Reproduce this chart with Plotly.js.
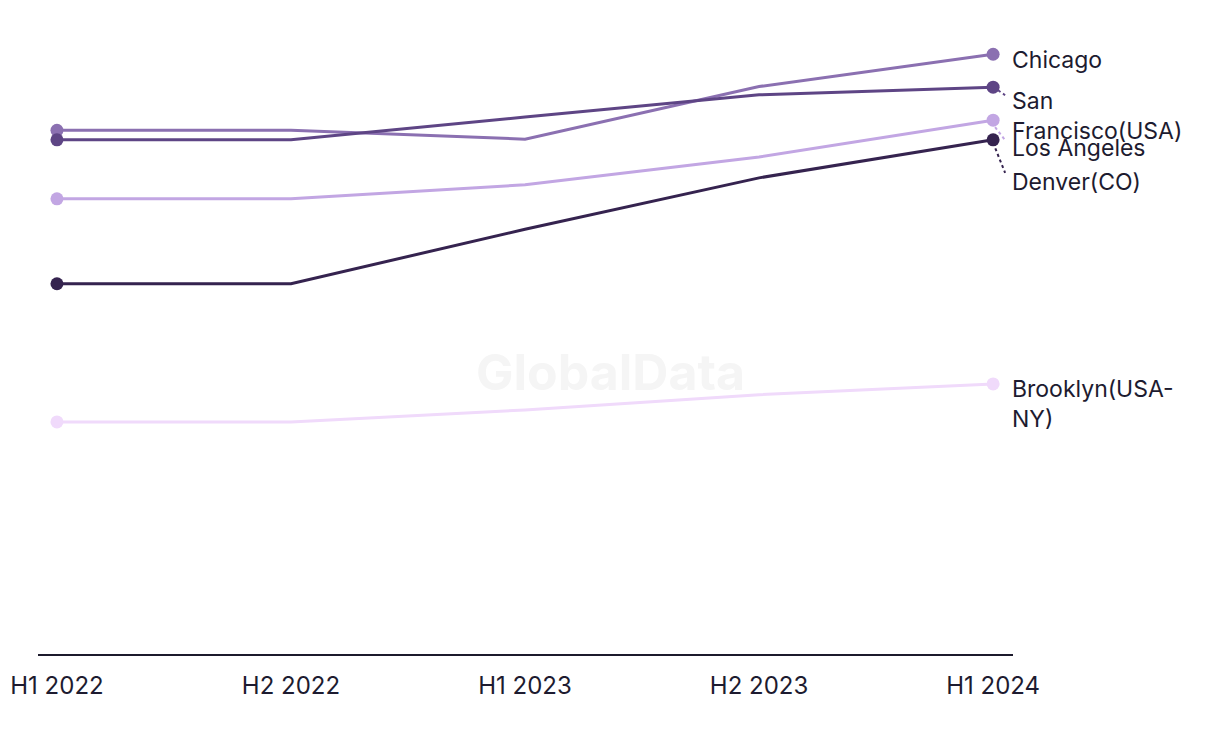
<!DOCTYPE html>
<html>
<head>
<meta charset="utf-8">
<script src="https://cdn.plot.ly/plotly-3.0.1.min.js"></script>
<style>html,body{margin:0;padding:0;background:#fff;}#chart{width:1220px;height:744px;}</style>
</head>
<body>
<div id="chart"></div>
<script>
const periods = ["H1 2022", "H2 2022", "H1 2023", "H2 2023", "H1 2024"];
const seriesNames = ["Chicago", "San<br>Francisco(USA)", "Los Angeles", "Denver(CO)", "Brooklyn(USA-<br>NY)"];
const chicago = [82.6, 82.6, 81.2, 89.5, 94.6];
const sanFrancisco = [81.1, 81.1, 84.7, 88.2, 89.4];
const losAngeles = [71.8, 71.8, 74.0, 78.4, 84.2];
const denver = [58.4, 58.4, 67.0, 75.1, 81.1];
const brooklyn = [36.6, 36.6, 38.5, 40.9, 42.6];
const values = [chicago, sanFrancisco, losAngeles, denver, brooklyn];

const colors = ["#8b70b1", "#5e4585", "#c2a6e3", "#35234f", "#f0dafb"];
const labelShift = [-6, -29, -28, -42, -20];
const leaders = [null, {x0: 5, x1: 12, y0: -3, y1: -8}, {x0: 2, x1: 12, y0: -7, y1: -20}, {x0: 0, x1: 12, y0: -3, y1: -33}, null];
const textColor = "#1d1b30";
const fontFam = "Inter, Roboto, sans-serif";

const traces = [];
values.forEach((v, i) => {
  traces.push({
    type: "scatter", mode: "lines",
    x: periods, y: v, name: seriesNames[i],
    line: {color: colors[i], width: 3},
    hoverinfo: "skip"
  });
});
values.forEach((v, i) => {
  const last = v.length - 1;
  traces.push({
    type: "scatter", mode: "markers",
    x: [periods[0], periods[last]], y: [v[0], v[last]], name: seriesNames[i],
    marker: {color: colors[i], size: 13, opacity: 1, line: {width: 0}},
    hoverinfo: "skip"
  });
});

const annotations = values.map((v, i) => ({
  x: 1, xref: "paper", xanchor: "left", xshift: -3,
  y: v[v.length - 1], yref: "y", yanchor: "middle",
  yshift: labelShift[i],
  text: seriesNames[i],
  showarrow: false,
  align: "left",
  font: {family: fontFam, size: 23, color: textColor}
}));
annotations.push({
  x: 0.587, xref: "paper", y: 0.445, yref: "paper",
  text: "<b>GlobalData</b>", showarrow: false,
  font: {family: fontFam, size: 50, color: "#f5f5f5"}
});

const shapes = [];
leaders.forEach((l, i) => {
  if (!l) return;
  const v = values[i];
  shapes.push({
    type: "line", xref: "x", yref: "y",
    xsizemode: "pixel", ysizemode: "pixel",
    xanchor: periods.length - 1, yanchor: v[v.length - 1],
    x0: l.x0, x1: l.x1, y0: l.y0, y1: l.y1,
    line: {color: colors[i], width: 2, dash: "dot"}
  });
});

const layout = {
  width: 1220, height: 744,
  margin: {l: 38, r: 207, t: 20, b: 90},
  paper_bgcolor: "#fff", plot_bgcolor: "#fff",
  showlegend: false,
  xaxis: {
    type: "category",
    range: [-0.081, 4.085],
    showgrid: false, zeroline: false,
    showline: true, linecolor: "#1c1a2c", linewidth: 2,
    ticks: "", ticklabelstandoff: 9,
    tickfont: {family: fontFam, size: 24, color: textColor}
  },
  yaxis: {
    range: [0, 100],
    showgrid: false, zeroline: false, showline: false,
    showticklabels: false, ticks: ""
  },
  annotations: annotations,
  shapes: shapes
};

Plotly.newPlot("chart", traces, layout, {displayModeBar: false, staticPlot: true});
</script>
</body>
</html>
